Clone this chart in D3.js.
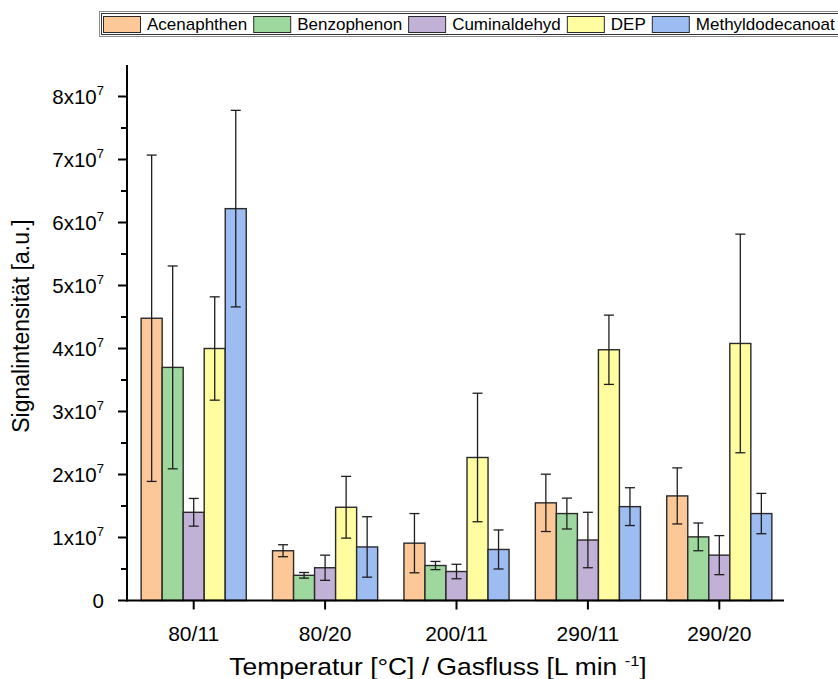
<!DOCTYPE html>
<html>
<head>
<meta charset="utf-8">
<script src="https://cdn.jsdelivr.net/npm/d3@7/dist/d3.min.js"></script>
<style>
  html, body { margin: 0; padding: 0; background: #fff; }
  svg { display: block; font-family: "Liberation Sans", Arial, sans-serif; }
</style>
</head>
<body>
<svg id="chart" width="838" height="679"></svg>
<script>
// Conditions: temperature [°C] / gas flow [L min^-1]
const categories = ["80/11", "80/20", "200/11", "290/11", "290/20"];
const seriesNames = ["Acenaphthen", "Benzophenon", "Cuminaldehyd", "DEP", "Methyldodecanoat"];
const seriesColors = ["#FDC898", "#9FD89E", "#C2B1D6", "#FFFD9F", "#9DBCF2"];

// Mean signal intensity per substance (a.u.), one value per condition
const acenaphthen      = [4.48e7, 0.79e7, 0.91e7, 1.55e7, 1.66e7];
const benzophenon      = [3.70e7, 0.40e7, 0.555e7, 1.38e7, 1.01e7];
const cuminaldehyd     = [1.40e7, 0.52e7, 0.46e7, 0.96e7, 0.72e7];
const dep              = [4.00e7, 1.48e7, 2.27e7, 3.98e7, 4.08e7];
const methyldodecanoat = [6.22e7, 0.85e7, 0.81e7, 1.49e7, 1.38e7];

// Standard deviations (a.u.)
const acenaphthenErr      = [2.59e7, 0.095e7, 0.47e7, 0.455e7, 0.445e7];
const benzophenonErr      = [1.61e7, 0.045e7, 0.065e7, 0.245e7, 0.22e7];
const cuminaldehydErr     = [0.22e7, 0.20e7, 0.115e7, 0.44e7, 0.31e7];
const depErr              = [0.82e7, 0.49e7, 1.02e7, 0.55e7, 1.735e7];
const methyldodecanoatErr = [1.56e7, 0.48e7, 0.31e7, 0.30e7, 0.32e7];

const yTickValues = [0, 1e7, 2e7, 3e7, 4e7, 5e7, 6e7, 7e7, 8e7];
const yMinorTickValues = [0.5e7, 1.5e7, 2.5e7, 3.5e7, 4.5e7, 5.5e7, 6.5e7, 7.5e7];

const xTitle = "Temperatur [°C] / Gasfluss [L min ";
const yTitle = "Signalintensität [a.u.]";

const values = [acenaphthen, benzophenon, cuminaldehyd, dep, methyldodecanoat];
const errors = [acenaphthenErr, benzophenonErr, cuminaldehydErr, depErr, methyldodecanoatErr];

const rows = [];
seriesNames.forEach((name, s) => {
  categories.forEach((cat, c) => {
    rows.push({ series: name, s, category: cat, value: values[s][c], err: errors[s][c] });
  });
});

const svg = d3.select("#chart");

const axisLeftX = 127, axisBottomY = 600.5;
const x = d3.scaleBand().domain(categories).range([128, 785]).paddingInner(0).paddingOuter(0);
const groupW = x.bandwidth() * 0.8;
const x1 = d3.scaleBand().domain(seriesNames).range([0, groupW]);
const y = d3.scaleLinear().domain([0, 8.5e7]).range([axisBottomY, 65]);

const barX = d => x(d.category) + (x.bandwidth() - groupW) / 2 + x1(d.series);

// Bars
svg.append("g").selectAll("rect")
  .data(rows).join("rect")
  .attr("x", barX)
  .attr("y", d => y(d.value))
  .attr("width", x1.bandwidth())
  .attr("height", d => y(0) - y(d.value))
  .attr("fill", d => seriesColors[d.s])
  .attr("stroke", "#2a2a2a")
  .attr("stroke-width", 1.4);

// Error bars
const capW = 10;
const eg = svg.append("g").attr("stroke", "#1e1e1e").attr("stroke-width", 1.3).attr("fill", "none");
rows.forEach(d => {
  const cx = barX(d) + x1.bandwidth() / 2;
  const yt = y(d.value + d.err), yb = y(Math.max(0, d.value - d.err));
  eg.append("line").attr("x1", cx).attr("x2", cx).attr("y1", yt).attr("y2", yb);
  eg.append("line").attr("x1", cx - capW / 2).attr("x2", cx + capW / 2).attr("y1", yt).attr("y2", yt);
  eg.append("line").attr("x1", cx - capW / 2).attr("x2", cx + capW / 2).attr("y1", yb).attr("y2", yb);
});

// Y axis: line, major + minor ticks, labels in a x 10^n form
const ya = svg.append("g");
ya.append("line").attr("x1", axisLeftX).attr("x2", axisLeftX)
  .attr("y1", 65).attr("y2", axisBottomY + 1).attr("stroke", "#000").attr("stroke-width", 2);
ya.selectAll("line.major").data(yTickValues).join("line").attr("class", "major")
  .attr("x1", axisLeftX - 9).attr("x2", axisLeftX)
  .attr("y1", d => y(d)).attr("y2", d => y(d))
  .attr("stroke", "#000").attr("stroke-width", 2);
ya.selectAll("line.minor").data(yMinorTickValues).join("line").attr("class", "minor")
  .attr("x1", axisLeftX - 6).attr("x2", axisLeftX)
  .attr("y1", d => y(d)).attr("y2", d => y(d))
  .attr("stroke", "#000").attr("stroke-width", 2);
ya.selectAll("text").data(yTickValues).join("text")
  .attr("x", 104)
  .attr("y", d => y(d) + 7)
  .attr("text-anchor", "end")
  .attr("font-size", 20.5)
  .attr("fill", "#000")
  .each(function (d) {
    const t = d3.select(this);
    if (d === 0) { t.text("0"); return; }
    const exp = Math.floor(Math.log10(d));
    const mant = Math.round(d / Math.pow(10, exp));
    t.append("tspan").text(mant + "x10");
    t.append("tspan").attr("font-size", 13).attr("dy", -9).text(exp);
  });

// X axis
const xa = svg.append("g");
xa.append("line").attr("x1", axisLeftX - 1).attr("x2", 784)
  .attr("y1", axisBottomY).attr("y2", axisBottomY).attr("stroke", "#000").attr("stroke-width", 2);
xa.selectAll("line.tick").data(categories).join("line").attr("class", "tick")
  .attr("x1", d => x(d) + x.bandwidth() / 2).attr("x2", d => x(d) + x.bandwidth() / 2)
  .attr("y1", axisBottomY).attr("y2", axisBottomY + 9)
  .attr("stroke", "#000").attr("stroke-width", 2);
xa.selectAll("text").data(categories).join("text")
  .attr("x", d => x(d) + x.bandwidth() / 2)
  .attr("y", 641)
  .attr("text-anchor", "middle")
  .attr("font-size", 21)
  .text(d => d);

// Axis titles
const xt = svg.append("text").attr("transform", "translate(438,675) scale(1.1,1)")
  .attr("text-anchor", "middle").attr("font-size", 24);
xt.append("tspan").text(xTitle);
xt.append("tspan").attr("font-size", 15).attr("dy", -9).text("-1");
xt.append("tspan").attr("dy", 9).text("]");

svg.append("text")
  .attr("transform", "translate(29,326) rotate(-90)")
  .attr("text-anchor", "middle")
  .attr("font-size", 23)
  .text(yTitle);

// Legend
const lg = svg.append("g");
lg.append("rect").attr("x", 99.5).attr("y", 11.5).attr("width", 745).attr("height", 25)
  .attr("fill", "#fff").attr("stroke", "#8a8a8a").attr("stroke-width", 1);
lg.append("rect").attr("x", 101.5).attr("y", 13.5).attr("width", 745).attr("height", 21)
  .attr("fill", "none").attr("stroke", "#333").attr("stroke-width", 1);
let lx = 103;
seriesNames.forEach((name, i) => {
  lg.append("rect").attr("x", lx + 0.5).attr("y", 16.5).attr("width", 37).attr("height", 16)
    .attr("fill", seriesColors[i]).attr("stroke", "#2a2a2a").attr("stroke-width", 1);
  const t = lg.append("text").attr("x", lx + 44).attr("y", 30).attr("font-size", 17).text(name);
  lx += 44 + t.node().getComputedTextLength() + 6;
});
</script>
</body>
</html>
